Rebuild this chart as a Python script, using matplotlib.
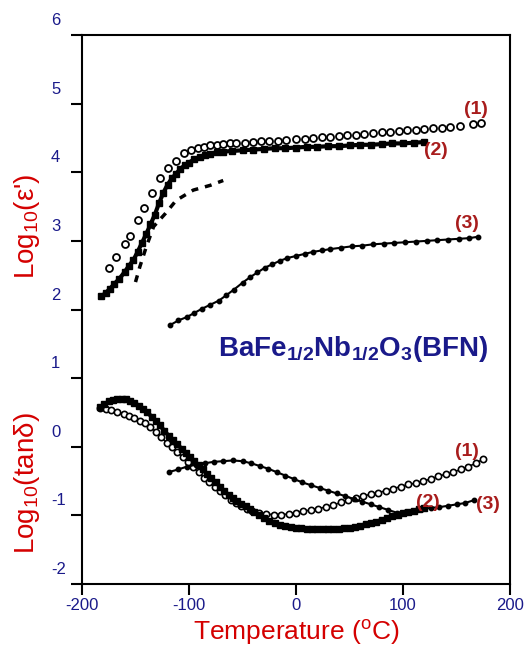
import numpy as np
import matplotlib
matplotlib.use("Agg")
import matplotlib.pyplot as plt
from matplotlib.transforms import ScaledTranslation

plt.rcParams["font.family"] = ["Liberation Sans", "DejaVu Sans"]
plt.rcParams["mathtext.fontset"] = "custom"
plt.rcParams["mathtext.rm"] = "Liberation Sans"
plt.rcParams["mathtext.it"] = "Liberation Sans:italic"
plt.rcParams["mathtext.bf"] = "Liberation Sans:bold"

# Log10(eps') curves
eps1_t = [-175, -168, -160, -155, -148, -142, -135, -127, -120, -112, -105, -98, -92, -86,
          -80, -74, -68, -62, -56, -48, -40, -33, -25, -17, -9, 0, 8, 16, 24, 32, 40, 48,
          56, 64, 72, 80, 88, 96, 104, 112, 120, 128, 136, 144, 153, 165, 173]
eps1_v = [2.60, 2.76, 2.96, 3.07, 3.31, 3.48, 3.70, 3.92, 4.06, 4.17, 4.28, 4.32, 4.35, 4.37,
          4.39, 4.40, 4.41, 4.42, 4.42, 4.43, 4.44, 4.45, 4.46, 4.46, 4.47, 4.48, 4.49, 4.50,
          4.51, 4.52, 4.53, 4.54, 4.55, 4.56, 4.57, 4.58, 4.59, 4.60, 4.61, 4.62, 4.63, 4.64,
          4.65, 4.66, 4.68, 4.71, 4.72]

eps2_t = [-182, -178, -174, -170, -165, -160, -156, -152, -148, -144, -140, -136, -132, -128,
          -124, -120, -116, -112, -108, -104, -100, -95, -90, -85, -80, -74, -68, -60, -50,
          -40, -30, -20, -10, 0, 10, 20, 30, 40, 50, 60, 70, 80, 90, 100, 110, 120]
eps2_v = [2.19, 2.24, 2.30, 2.37, 2.45, 2.55, 2.64, 2.72, 2.84, 2.97, 3.10, 3.24, 3.38, 3.55,
          3.70, 3.82, 3.91, 3.98, 4.05, 4.10, 4.14, 4.19, 4.22, 4.25, 4.27, 4.29, 4.30, 4.31,
          4.32, 4.33, 4.34, 4.35, 4.35, 4.36, 4.37, 4.37, 4.38, 4.38, 4.39, 4.40, 4.40, 4.41,
          4.42, 4.42, 4.43, 4.44]

epsd_t = [-150, -146, -140, -133, -122, -112, -96, -80, -68]
epsd_v = [2.40, 2.62, 2.91, 3.21, 3.40, 3.59, 3.74, 3.81, 3.88]

eps3_t = [-118, -110, -102, -95, -88, -80, -72, -65, -58, -50, -43, -36, -29, -22, -15, -8,
          0, 8, 16, 24, 32, 42, 52, 62, 72, 82, 92, 102, 112, 122, 132, 142, 152, 162, 170]
eps3_v = [1.77, 1.84, 1.89, 1.95, 2.01, 2.07, 2.13, 2.21, 2.29, 2.39, 2.47, 2.54, 2.61, 2.66,
          2.71, 2.75, 2.78, 2.81, 2.84, 2.86, 2.88, 2.90, 2.92, 2.93, 2.95, 2.96, 2.97, 2.98,
          2.99, 3.00, 3.01, 3.02, 3.03, 3.04, 3.06]

# Log10(tan delta) curves
tan1_t = [-183, -178, -173, -167, -161, -156, -151, -146, -141, -136, -131, -126, -121, -116,
          -111, -106, -101, -96, -91, -86, -81, -76, -71, -66, -61, -56, -51, -46, -41, -35,
          -28, -21, -14, -7, 0, 7, 14, 21, 28, 35, 42, 49, 56, 63, 70, 77, 84, 91, 98, 105,
          112, 119, 126, 133, 140, 147, 154, 161, 168, 175]
tan1_v = [0.57, 0.55, 0.53, 0.51, 0.48, 0.45, 0.42, 0.38, 0.34, 0.29, 0.22, 0.14, 0.06, -0.01,
          -0.08, -0.15, -0.22, -0.30, -0.37, -0.45, -0.52, -0.59, -0.65, -0.71, -0.77, -0.82,
          -0.86, -0.90, -0.93, -0.96, -0.98, -0.99, -0.99, -0.98, -0.96, -0.94, -0.92, -0.90,
          -0.88, -0.85, -0.81, -0.78, -0.75, -0.72, -0.69, -0.67, -0.64, -0.61, -0.58, -0.55,
          -0.53, -0.50, -0.47, -0.43, -0.40, -0.37, -0.33, -0.29, -0.24, -0.18]

tan2_t = [-183, -179, -175, -171, -167, -163, -159, -155, -151, -147, -143, -139, -135, -131,
          -127, -123, -119, -115, -111, -107, -103, -99, -95, -91, -87, -83, -79, -75, -71,
          -67, -63, -59, -55, -51, -47, -43, -39, -35, -30, -25, -20, -15, -10, -5, 0, 5, 10,
          15, 20, 25, 30, 35, 40, 45, 50, 55, 60, 65, 70, 75, 80, 85, 90, 95, 100, 105, 110,
          115, 120]
tan2_v = [0.58, 0.62, 0.66, 0.68, 0.70, 0.70, 0.69, 0.67, 0.64, 0.60, 0.55, 0.50, 0.44, 0.38,
          0.31, 0.23, 0.16, 0.10, 0.04, -0.03, -0.09, -0.15, -0.21, -0.27, -0.33, -0.40, -0.46,
          -0.52, -0.58, -0.65, -0.70, -0.75, -0.79, -0.83, -0.87, -0.91, -0.95, -0.99, -1.04,
          -1.08, -1.11, -1.14, -1.16, -1.17, -1.18, -1.19, -1.20, -1.20, -1.20, -1.20, -1.20,
          -1.20, -1.20, -1.19, -1.18, -1.17, -1.15, -1.13, -1.11, -1.09, -1.07, -1.04, -1.01,
          -0.99, -0.97, -0.95, -0.93, -0.91, -0.89]

tan3_t = [-119, -110, -102, -93, -85, -77, -68, -59, -50, -42, -34, -26, -18, -10, -2, 6, 14,
          22, 30, 38, 46, 54, 62, 70, 78, 86, 94, 102, 110, 118, 126, 134, 142, 150, 158, 166]
tan3_v = [-0.37, -0.33, -0.29, -0.26, -0.24, -0.22, -0.21, -0.20, -0.21, -0.24, -0.28, -0.32,
          -0.37, -0.42, -0.47, -0.52, -0.56, -0.60, -0.64, -0.68, -0.72, -0.76, -0.80, -0.84,
          -0.88, -0.92, -0.96, -0.95, -0.93, -0.91, -0.89, -0.88, -0.86, -0.84, -0.82, -0.78]

xticks = [-200, -100, 0, 100, 200]
yticks = [-2, -1, 0, 1, 2, 3, 4, 5, 6]

# curve tags: (text, x, y)
tags = [("(1)", 168, 4.91), ("(2)", 131, 4.32), ("(3)", 160, 3.25),
        ("(1)", 160, -0.07), ("(2)", 123, -0.81), ("(3)", 179, -0.84)]

navy = "#1a1a8a"
red = "#d40000"
dkred = "#a81c1c"

fig = plt.figure(figsize=(5.24, 6.48), dpi=100)
ax = fig.add_axes([82/524, 64/648, 428/524, 549/648])

ax.plot(eps1_t, eps1_v, "o", ms=5, mfc="white", mec="black", mew=1.3, ls="none")
ax.plot(eps2_t, eps2_v, "s-", color="black", ms=4.5, lw=3)
ax.plot(epsd_t, epsd_v, color="black", lw=2.5, ls=(0, (2, 2)))
ax.plot(eps3_t, eps3_v, "o-", color="black", ms=3.2, lw=1.5)

ax.plot(tan1_t, tan1_v, "o-", ms=4.5, mfc="white", mec="black", mew=1.2, color="black", lw=1.2)
ax.plot(tan2_t, tan2_v, "s-", color="black", ms=4.5, lw=3)
ax.plot(tan3_t, tan3_v, "o-", color="black", ms=3.2, lw=1.5)

for txt, tx, ty in tags:
    ax.text(tx, ty, txt, color=dkred, fontsize=14, fontweight="bold", ha="center", va="center")

ax.text(-73, 1.42, r"BaFe$_{\mathbf{1/2}}$Nb$_{\mathbf{1/2}}$O$_{\mathbf{3}}$(BFN)",
        color=navy, fontsize=20, fontweight="bold", ha="left", va="center")

ax.set_xlim(-200, 200)
ax.set_ylim(-2, 6)
ax.set_xticks(xticks)
ax.set_yticks(yticks)
ax.set_xticklabels([str(v) for v in xticks])
ax.set_yticklabels([str(v) for v in yticks])
ax.tick_params(axis="both", direction="out", length=8, width=1.5, labelsize=12,
               labelcolor=navy, top=False, right=False)
ax.tick_params(axis="x", pad=2)
for s in ax.spines.values():
    s.set_linewidth(1.5)

# y tick labels sit above their ticks in the original
off = ScaledTranslation(-0.15, 0.16, fig.dpi_scale_trans)
for lab in ax.get_yticklabels():
    lab.set_horizontalalignment("left")
    lab.set_transform(lab.get_transform() + off)

ax.set_xlabel("Temperature ($^{\\mathregular{o}}$C)", color=red, fontsize=19, labelpad=4)
fig.text(27/524, 1 - 226/648, "Log$_{10}$(ε')", color=red, fontsize=20, rotation=90,
         ha="center", va="center")
fig.text(27/524, 1 - 483/648, "Log$_{10}$(tanδ)", color=red, fontsize=20, rotation=90,
         ha="center", va="center")

fig.savefig("out.png", dpi=100)
